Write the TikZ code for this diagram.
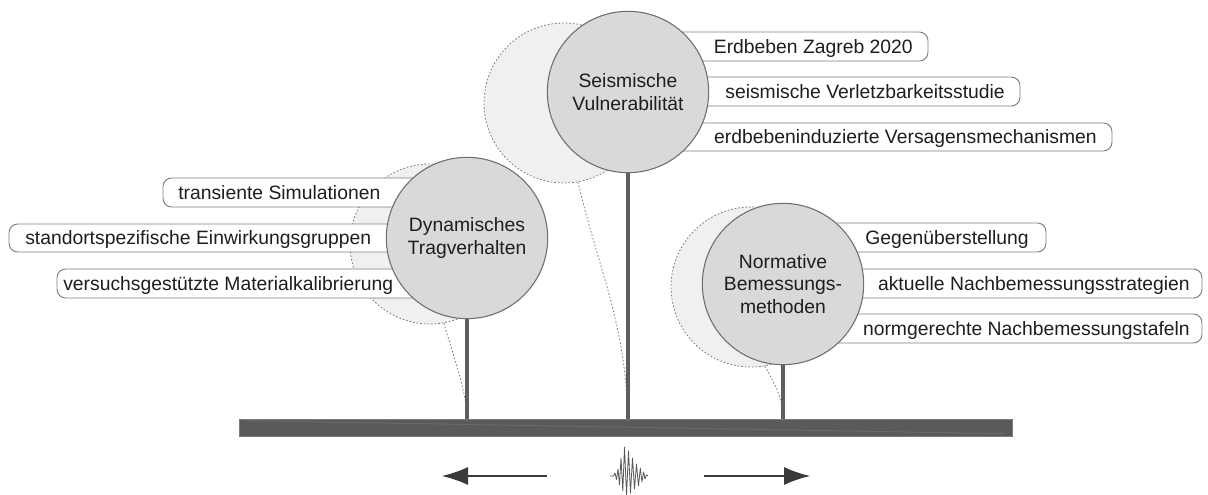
\documentclass[tikz,border=0pt]{standalone}
\usepackage{fontspec}
\setmainfont{Liberation Sans}
\usetikzlibrary{arrows.meta}
\definecolor{circfill}{HTML}{D9D9D9}
\definecolor{circline}{HTML}{6E6E6E}
\definecolor{ghostfill}{HTML}{F0F0F0}
\definecolor{ghostline}{HTML}{7A7A7A}
\definecolor{stemcol}{HTML}{5E5E5E}
\definecolor{barcol}{HTML}{5A5A5A}
\definecolor{boxline}{HTML}{808080}
\definecolor{txt}{HTML}{1E1E1E}
\definecolor{arrcol}{HTML}{3A3A3A}
% right-side label: name, xin, xend, ytop, ybot, text east x, text
\newcommand\labR[7]{%
  \draw[lblbox] (#2,#4) -- (#3,#4) -- (#3,#5) -- (#2,#5);
  \node[lbl, anchor=east] (#1) at (#6,{(#4+#5)/2}) {#7};
}
% left-side label: name, xin, xstart, ytop, ybot, text west x, text
\newcommand\labL[7]{%
  \draw[lblbox] (#2,#4) -- (#3,#4) -- (#3,#5) -- (#2,#5);
  \node[lbl, anchor=west] (#1) at (#6,{(#4+#5)/2}) {#7};
}
\begin{document}
\begin{tikzpicture}[x=0.75pt,y=-0.75pt,
  maincirc/.style={circle, draw=circline, line width=0.8pt, fill=circfill, minimum size=121pt, inner sep=0pt, align=center, text=txt, font=\fontsize{14.5pt}{16.9pt}\selectfont},
  ghostcirc/.style={circle, draw=ghostline, fill=ghostfill, line width=0.6pt, dash pattern=on 1.2pt off 1.5pt, minimum size=120pt, inner sep=0pt},
  ghostpath/.style={draw=ghostline, line width=0.6pt, dash pattern=on 1.2pt off 1.5pt},
  lblbox/.style={draw=boxline, fill=white, line width=0.7pt, rounded corners=6.5pt},
  lbl/.style={inner sep=0pt, text=txt, text height=10.4pt, text depth=0pt, font=\fontsize{14.5pt}{16.9pt}\selectfont},
  stem/.style={draw=stemcol, line width=3.4pt},
  barstyle/.style={rectangle, fill=barcol, draw=barcol!80!white, line width=0.5pt, minimum width=579.75pt, minimum height=12.75pt, inner sep=0pt},
  arr/.style={draw=arrcol, line width=1pt, -{Latex[length=19.5pt,width=13.5pt]}},
  wave/.style={draw=arrcol!85!white, line width=0.6pt, line join=round}
]
\useasboundingbox (0,0) rectangle (1208,495);
% centres
\coordinate (Sc) at (628,92);
\coordinate (Dc) at (467,238);
\coordinate (Nc) at (783,284);
% ghost positions
\node[ghostcirc] (Sg) at (564,103) {};
\node[ghostcirc] (Dg) at (430,244) {};
\node[ghostcirc] (Ng) at (751,287) {};
% base bar
\node[barstyle] (bar) at (625.5,427.5) {};
\draw[barcol!90!white, line width=0.6pt] (bar.north west) ++(6,2) -- ([xshift=-6pt,yshift=2pt]bar.south east);
% ghost stems
\draw[ghostpath] (Sg.-80) .. controls (600,275) and (625,320) .. (Sc |- bar.north);
\draw[ghostpath] (Dg.-80) .. controls (456,365) and (466,390) .. (Dc |- bar.north);
\draw[ghostpath] (Ng.-80) .. controls (775,385) and (782,395) .. (Nc |- bar.north);
% labels
\labR{s1}{645}{928}{32}{61}{913}{Erdbeben Zagreb 2020}
\labR{s2}{645}{1020}{77}{106}{1005}{seismische Verletzbarkeitsstudie}
\labR{s3}{645}{1112}{123}{151}{1097}{erdbebeninduzierte Versagensmechanismen}
\labR{n1}{800}{1046}{223}{252}{1029}{Gegenüberstellung}
\labR{n2}{800}{1202}{269}{298}{1190}{aktuelle Nachbemessungsstrategien}
\labR{n3}{800}{1202}{314}{343}{1190}{normgerechte Nachbemessungstafeln}
\labL{d1}{450}{163}{178}{207}{178}{transiente Simulationen}
\labL{d2}{450}{9}{224}{252}{25}{standortspezifische Einwirkungsgruppen}
\labL{d3}{450}{57}{269}{298}{63}{versuchsgestützte Materialkalibrierung}
% stems
\draw[stem] (Sc) -- (Sc |- bar.north);
\draw[stem] (Dc) -- (Dc |- bar.north);
\draw[stem] (Nc) -- (Nc |- bar.north);
% main circles
\node[maincirc] (S) at (Sc) {Seismische\\Vulnerabilität};
\node[maincirc] (D) at (Dc) {Dynamisches\\Tragverhalten};
\node[maincirc] (N) at (Nc) {Normative\\Bemessungs-\\methoden};
% arrows
\coordinate (la) at (547,476);
\coordinate (lt) at (442,476);
\coordinate (ra) at (704,476);
\coordinate (rt) at (810,476);
\draw[arr] (la) -- (lt);
\draw[arr] (ra) -- (rt);
% seismic wave
\draw[wave] plot coordinates {(610,476) (613.5,476) (615,473) (616.5,479.5) (618,469) (619.5,485) (621,458) (622.8,491) (624.5,447) (626.5,495) (628.5,451) (630.5,493) (632.5,458) (634.5,489) (636.5,464) (638.5,486) (640.3,468) (642,482) (643.6,472) (645,479) (646.5,475) (648,476)};
\end{tikzpicture}
\end{document}
